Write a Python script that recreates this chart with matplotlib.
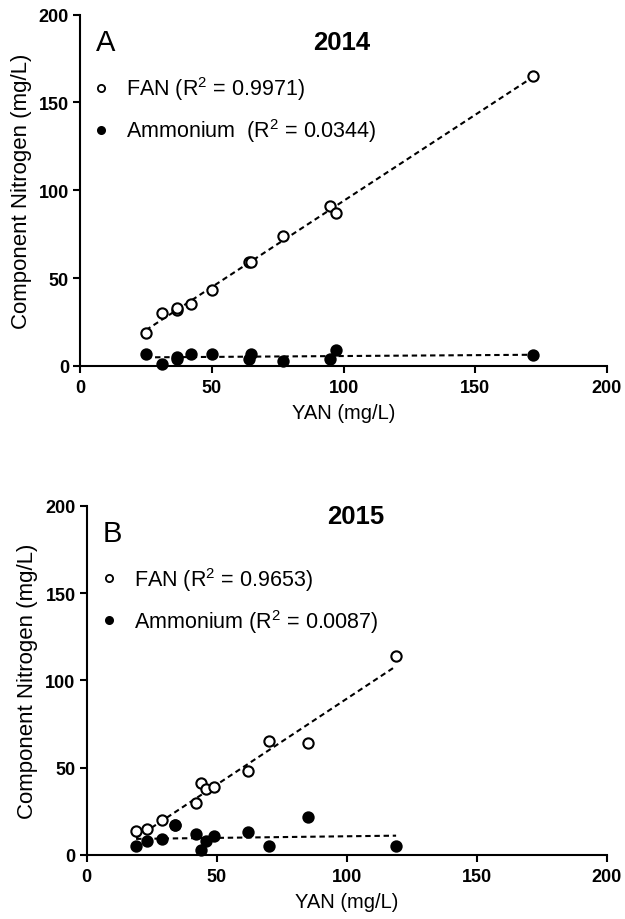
import numpy as np
import matplotlib
matplotlib.use("Agg")
import matplotlib.pyplot as plt

plt.rcParams['font.family'] = ['Liberation Sans', 'DejaVu Sans']
plt.rcParams['mathtext.fontset'] = 'custom'
plt.rcParams['mathtext.rm'] = 'Liberation Sans'
plt.rcParams['mathtext.it'] = 'Liberation Sans:italic'
plt.rcParams['mathtext.bf'] = 'Liberation Sans:bold'

# ---- data ----
yan_2014 = [25, 31, 37, 37, 42, 50, 64, 65, 77, 95, 97, 172]
fan_2014 = [19, 30, 32, 33, 35, 43, 59, 59, 74, 91, 87, 165]
nh4_2014 = [7, 1, 5, 4, 7, 7, 4, 7, 3, 4, 9, 6]

yan_2015 = [19, 23, 29, 34, 42, 44, 46, 49, 62, 70, 85, 119]
fan_2015 = [14, 15, 20, 17, 30, 41, 38, 39, 48, 65, 64, 114]
nh4_2015 = [5, 8, 9, 17, 12, 3, 8, 11, 13, 5, 22, 5]

labels_2014 = ["FAN (R$^2$ = 0.9971)", "Ammonium  (R$^2$ = 0.0344)"]
labels_2015 = ["FAN (R$^2$ = 0.9653)", "Ammonium (R$^2$ = 0.0087)"]
ticks = [0, 50, 100, 150, 200]

W, H = 625, 920
fig = plt.figure(figsize=(W / 100, H / 100), dpi=100)
ax1 = fig.add_axes([80 / W, 1 - 367 / H, 527 / W, 351.5 / H])
ax2 = fig.add_axes([86.7 / W, 1 - 856 / H, 520 / W, 349.3 / H])


def panel(ax, x, fan, nh4, labels, letter, year, letter_pos, year_pos, leg_anchor):
    x = np.asarray(x, float)
    for y, fc in ((fan, 'white'), (nh4, 'black')):
        y = np.asarray(y, float)
        ax.plot(x, y, 'o', ms=7.4, mfc=fc, mec='black', mew=1.5, zorder=3,
                clip_on=False)
        p = np.polyfit(x, y, 1)
        xs = np.array([x.min(), x.max()])
        ax.plot(xs, np.polyval(p, xs), '--', color='black', lw=1.5,
                dashes=(2.6, 1.8), zorder=2)
    # legend handles
    h1, = ax.plot([], [], 'o', ms=5.2, mfc='white', mec='black', mew=1.3)
    h2, = ax.plot([], [], 'o', ms=5.2, mfc='black', mec='black', mew=1.3)
    ax.legend([h1, h2], labels, loc='upper left', bbox_to_anchor=leg_anchor,
              frameon=False, fontsize=15.5, handlelength=0.6,
              handletextpad=0.85, labelspacing=0.65, borderaxespad=0,
              borderpad=0)
    ax.set_xlim(0, 200)
    ax.set_ylim(0, 200)
    ax.set_xticks(ticks)
    ax.set_yticks(ticks)
    for lab in ax.get_xticklabels() + ax.get_yticklabels():
        lab.set_fontweight('bold')
        lab.set_fontsize(13)
    ax.tick_params(direction='out', length=5, width=1.5, pad=3)
    ax.tick_params(axis='x', pad=4.5)
    for s in ('top', 'right'):
        ax.spines[s].set_visible(False)
    for s in ('left', 'bottom'):
        ax.spines[s].set_linewidth(1.5)
    ax.set_xlabel('YAN (mg/L)', fontsize=14.5, labelpad=5)
    ax.set_ylabel('Component Nitrogen (mg/L)', fontsize=16, labelpad=5)
    ax.text(letter_pos[0], letter_pos[1], letter, fontsize=21, ha='left', va='center')
    ax.text(year_pos[0], year_pos[1], year, fontsize=18.5, fontweight='bold',
            ha='center', va='center')


panel(ax1, yan_2014, fan_2014, nh4_2014, labels_2014, 'A', '2014',
      (6, 184.5), (99.5, 184.5), (0.0273, 0.83))
panel(ax2, yan_2015, fan_2015, nh4_2015, labels_2015, 'B', '2015',
      (6.2, 184.4), (103.3, 194.3), (0.0308, 0.83))

fig.savefig('out.png', dpi=100)
